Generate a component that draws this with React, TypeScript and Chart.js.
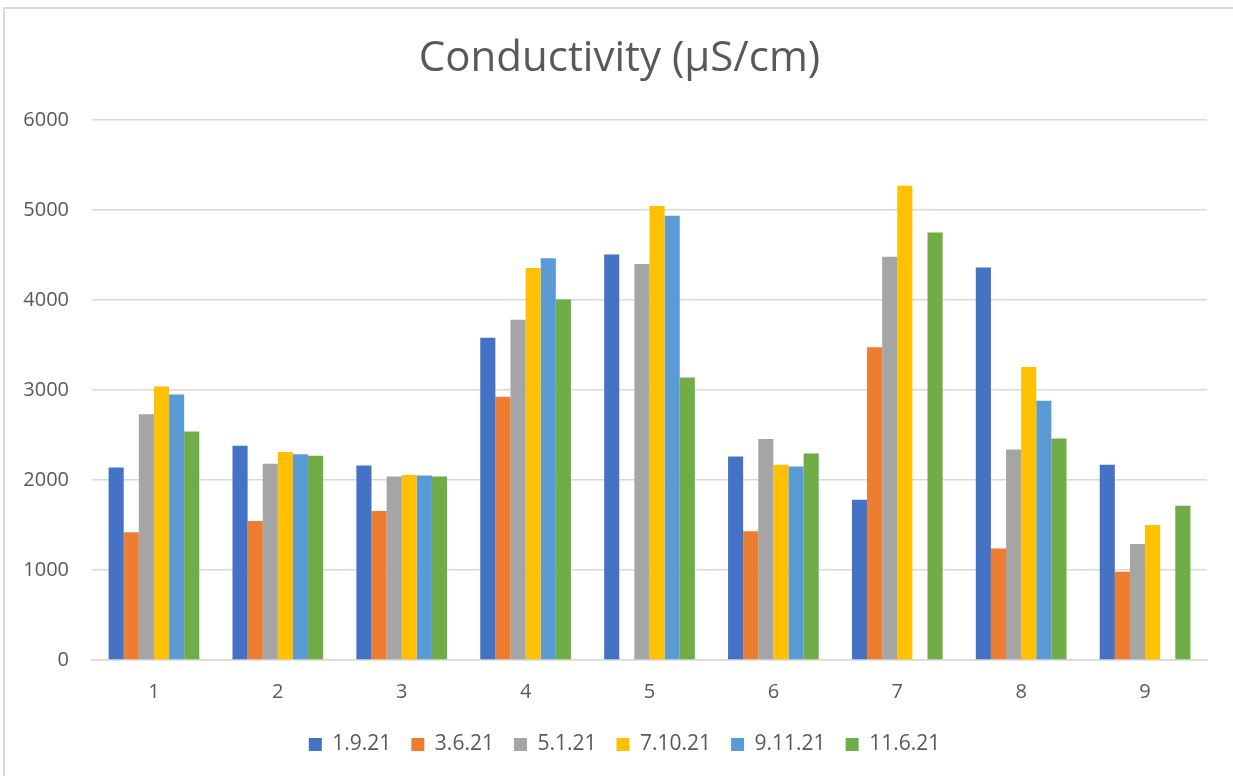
import React, { useEffect, useRef } from "react";
import { Chart, registerables } from "chart.js";

Chart.register(...registerables);

const categories = ["1", "2", "3", "4", "5", "6", "7", "8", "9"];
const seriesLabels = ["1.9.21", "3.6.21", "5.1.21", "7.10.21", "9.11.21", "11.6.21"];
const series1_9_21 = [2140, 2380, 2160, 3580, 4505, 2260, 1780, 4360, 2170];
const series3_6_21 = [1420, 1545, 1655, 2925, null, 1430, 3475, 1240, 980];
const series5_1_21 = [2730, 2180, 2040, 3780, 4400, 2455, 4480, 2340, 1290];
const series7_10_21 = [3040, 2310, 2055, 4355, 5045, 2170, 5270, 3255, 1500];
const series9_11_21 = [2950, 2285, 2050, 4465, 4935, 2150, null, 2880, null];
const series11_6_21 = [2540, 2270, 2040, 4005, 3140, 2295, 4750, 2460, 1715];
const seriesColors = ["#4472C4", "#ED7D31", "#A5A5A5", "#FFC000", "#5B9BD5", "#70AD47"];
const yMin = 0;
const yMax = 6000;
const yStep = 1000;
const title = "Conductivity (µS/cm)";

const FONT = "'Open Sans', 'DejaVu Sans', sans-serif";
const TEXT = "#595959";
const GRID = "#d9d9d9";

const shiftBoxes = {
  id: "shiftBoxes",
  afterLayout(chart: any) {
    const lg = chart.legend;
    if (lg) {
      lg.left += 10;
      lg.right += 10;
    }
    const tb = chart.titleBlock;
    if (tb) {
      tb.left += 5;
      tb.right += 5;
    }
  },
};

export default function App() {
  const canvasRef = useRef<HTMLCanvasElement | null>(null);

  useEffect(() => {
    document.body.style.margin = "0";
    document.body.style.overflow = "hidden";
    const canvas = canvasRef.current;
    if (!canvas) return;
    const allSeries = [series1_9_21, series3_6_21, series5_1_21, series7_10_21, series9_11_21, series11_6_21];
    const chart = new Chart(canvas, {
      type: "bar",
      data: {
        labels: categories,
        datasets: allSeries.map((d, i) => ({
          label: seriesLabels[i],
          data: d,
          backgroundColor: seriesColors[i],
          borderWidth: 0,
          barPercentage: 1,
          categoryPercentage: 0.732,
        })),
      },
      plugins: [shiftBoxes],
      options: {
        responsive: false,
        devicePixelRatio: 1,
        animation: false,
        layout: { padding: { left: 22, right: 26, top: 0, bottom: 11 } },
        plugins: {
          title: {
            display: true,
            text: title,
            color: TEXT,
            font: { family: FONT, size: 42, weight: "normal" },
            padding: { top: 34, bottom: 35.6 },
          },
          legend: {
            position: "bottom",
            labels: {
              color: TEXT,
              font: { family: FONT, size: 21 },
              boxWidth: 13,
              boxHeight: 13,
              padding: 20,
            },
          },
          tooltip: { enabled: false },
        },
        scales: {
          x: {
            grid: { display: false },
            border: { color: GRID, width: 1.5 },
            ticks: { color: TEXT, font: { family: FONT, size: 20 }, padding: 12 },
            afterFit: (scale: any) => {
              scale.height = 54;
            },
          },
          y: {
            min: yMin,
            max: yMax,
            ticks: {
              stepSize: yStep,
              color: TEXT,
              font: { family: FONT, size: 20 },
              padding: 23,
              callback: (v: any) => String(v),
            },
            grid: { color: GRID, lineWidth: 1.5, drawTicks: false },
            border: { display: false },
            afterFit: (scale: any) => {
              scale.width = 70;
            },
          },
        },
      },
    });
    return () => chart.destroy();
  }, []);

  return (
    <div style={{ position: "relative", width: 1233, height: 776, overflow: "hidden", background: "#fff" }}>
      <canvas ref={canvasRef} width={1233} height={776} style={{ position: "absolute", left: 0, top: 0 }} />
      <div
        style={{
          position: "absolute",
          left: 3,
          top: 7,
          width: 1260,
          height: 800,
          border: `2px solid ${GRID}`,
          pointerEvents: "none",
        }}
      />
    </div>
  );
}
